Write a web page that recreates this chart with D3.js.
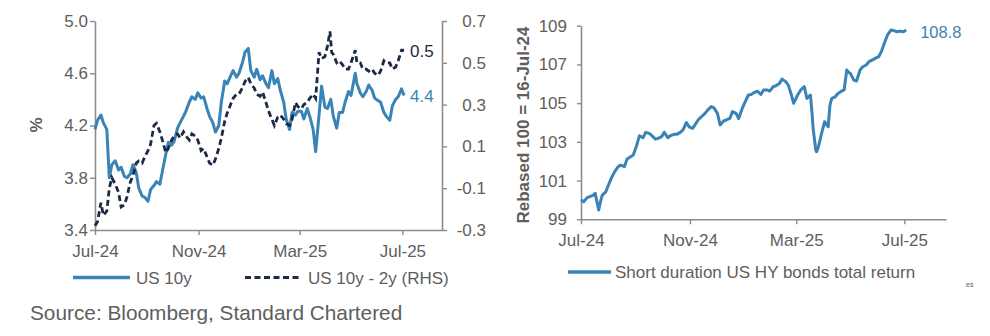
<!DOCTYPE html>
<html>
<head>
<meta charset="utf-8">
<script src="https://cdn.jsdelivr.net/npm/d3@7"></script>
<style>
  html, body { margin: 0; padding: 0; background: #fff; }
  svg { display: block; font-family: "Liberation Sans", Arial, sans-serif; }
</style>
</head>
<body>
<svg id="chart" width="990" height="336"></svg>
<script>
// ---------------- DATA ----------------
const xTickDates = ["2024-07-16", "2024-11-16", "2025-03-16", "2025-07-16"];
const xTickLabels = ["Jul-24", "Nov-24", "Mar-25", "Jul-25"];
const leftTicks = [3.4, 3.8, 4.2, 4.6, 5.0];
const rightTicks = [-0.3, -0.1, 0.1, 0.3, 0.5, 0.7];
const hyTicks = [99, 101, 103, 105, 107, 109];
const endLabels = { us10y: "4.4", spread: "0.5", hy: "108.8" };
const seriesNames = ["US 10y", "US 10y - 2y (RHS)", "Short duration US HY bonds total return"];

const us10yDates = ["2024-07-16","2024-07-19","2024-07-23","2024-07-26","2024-07-30","2024-08-02","2024-08-05","2024-08-09","2024-08-13","2024-08-16","2024-08-20","2024-08-23","2024-08-27","2024-08-30","2024-09-03","2024-09-06","2024-09-10","2024-09-13","2024-09-17","2024-09-20","2024-09-24","2024-09-27","2024-10-01","2024-10-04","2024-10-08","2024-10-11","2024-10-15","2024-10-18","2024-10-22","2024-10-25","2024-10-29","2024-11-01","2024-11-05","2024-11-08","2024-11-12","2024-11-15","2024-11-19","2024-11-22","2024-11-26","2024-11-29","2024-12-03","2024-12-06","2024-12-10","2024-12-13","2024-12-17","2024-12-20","2024-12-24","2024-12-27","2024-12-31","2025-01-03","2025-01-07","2025-01-10","2025-01-14","2025-01-17","2025-01-21","2025-01-24","2025-01-28","2025-01-31","2025-02-04","2025-02-07","2025-02-11","2025-02-14","2025-02-18","2025-02-21","2025-02-25","2025-02-28","2025-03-04","2025-03-07","2025-03-11","2025-03-14","2025-03-18","2025-03-21","2025-03-25","2025-03-28","2025-04-01","2025-04-04","2025-04-08","2025-04-11","2025-04-15","2025-04-18","2025-04-22","2025-04-25","2025-04-29","2025-05-02","2025-05-06","2025-05-09","2025-05-13","2025-05-16","2025-05-21","2025-05-23","2025-05-27","2025-05-30","2025-06-03","2025-06-06","2025-06-10","2025-06-13","2025-06-17","2025-06-20","2025-06-24","2025-06-27","2025-07-01","2025-07-04","2025-07-08","2025-07-11","2025-07-15","2025-07-18"];
const us10yValues = [4.17,4.24,4.28,4.22,4.17,3.80,3.90,3.93,3.86,3.88,3.81,3.80,3.83,3.90,3.84,3.72,3.66,3.65,3.62,3.71,3.74,3.77,3.75,3.85,3.98,4.07,4.05,4.08,4.18,4.22,4.27,4.31,4.38,4.42,4.40,4.45,4.41,4.42,4.33,4.27,4.22,4.15,4.20,4.38,4.54,4.52,4.58,4.62,4.57,4.60,4.68,4.76,4.79,4.62,4.57,4.63,4.55,4.58,4.52,4.49,4.62,4.52,4.56,4.47,4.38,4.25,4.17,4.30,4.28,4.31,4.31,4.25,4.33,4.27,4.17,4.00,4.28,4.50,4.34,4.33,4.40,4.27,4.18,4.30,4.30,4.38,4.46,4.43,4.60,4.52,4.45,4.42,4.46,4.51,4.47,4.41,4.39,4.38,4.30,4.27,4.24,4.35,4.40,4.42,4.48,4.43];

const spreadDates = ["2024-07-16","2024-07-19","2024-07-23","2024-07-26","2024-07-30","2024-08-02","2024-08-05","2024-08-09","2024-08-13","2024-08-16","2024-08-20","2024-08-23","2024-08-27","2024-08-30","2024-09-03","2024-09-06","2024-09-10","2024-09-13","2024-09-17","2024-09-20","2024-09-24","2024-09-27","2024-10-01","2024-10-04","2024-10-08","2024-10-11","2024-10-15","2024-10-18","2024-10-22","2024-10-25","2024-10-29","2024-11-01","2024-11-05","2024-11-08","2024-11-12","2024-11-15","2024-11-19","2024-11-22","2024-11-26","2024-11-29","2024-12-03","2024-12-06","2024-12-10","2024-12-13","2024-12-17","2024-12-20","2024-12-24","2024-12-27","2024-12-31","2025-01-03","2025-01-07","2025-01-10","2025-01-14","2025-01-17","2025-01-21","2025-01-24","2025-01-28","2025-01-31","2025-02-04","2025-02-07","2025-02-11","2025-02-14","2025-02-18","2025-02-21","2025-02-25","2025-02-28","2025-03-04","2025-03-07","2025-03-11","2025-03-14","2025-03-18","2025-03-21","2025-03-25","2025-03-28","2025-04-01","2025-04-04","2025-04-08","2025-04-11","2025-04-15","2025-04-18","2025-04-21","2025-04-23","2025-04-25","2025-04-29","2025-05-02","2025-05-06","2025-05-09","2025-05-13","2025-05-16","2025-05-21","2025-05-23","2025-05-27","2025-05-30","2025-06-03","2025-06-06","2025-06-10","2025-06-13","2025-06-17","2025-06-20","2025-06-24","2025-06-27","2025-07-01","2025-07-04","2025-07-08","2025-07-11","2025-07-15","2025-07-18"];
const spreadValues = [-0.28,-0.26,-0.17,-0.23,-0.21,-0.10,-0.05,-0.08,-0.12,-0.19,-0.18,-0.14,-0.07,-0.04,0.02,0.03,0.02,0.05,0.08,0.11,0.20,0.21,0.17,0.13,0.07,0.09,0.13,0.15,0.16,0.14,0.17,0.15,0.13,0.16,0.15,0.13,0.08,0.09,0.05,0.02,0.01,0.04,0.09,0.14,0.22,0.26,0.30,0.33,0.35,0.35,0.38,0.41,0.43,0.40,0.38,0.35,0.34,0.36,0.31,0.27,0.23,0.20,0.24,0.25,0.23,0.21,0.20,0.23,0.31,0.29,0.28,0.30,0.31,0.33,0.35,0.33,0.55,0.52,0.53,0.58,0.65,0.55,0.54,0.50,0.51,0.49,0.47,0.47,0.50,0.56,0.50,0.50,0.47,0.47,0.46,0.47,0.45,0.44,0.46,0.51,0.50,0.50,0.47,0.48,0.51,0.56,0.56];

const hyDates = ["2024-07-16","2024-07-19","2024-07-23","2024-07-26","2024-07-30","2024-08-01","2024-08-02","2024-08-05","2024-08-07","2024-08-09","2024-08-13","2024-08-16","2024-08-20","2024-08-23","2024-08-27","2024-08-30","2024-09-03","2024-09-06","2024-09-10","2024-09-13","2024-09-17","2024-09-20","2024-09-24","2024-09-27","2024-10-01","2024-10-04","2024-10-08","2024-10-11","2024-10-15","2024-10-18","2024-10-22","2024-10-25","2024-10-29","2024-11-01","2024-11-05","2024-11-08","2024-11-12","2024-11-15","2024-11-19","2024-11-22","2024-11-26","2024-11-29","2024-12-03","2024-12-06","2024-12-10","2024-12-13","2024-12-17","2024-12-20","2024-12-24","2024-12-27","2024-12-31","2025-01-03","2025-01-07","2025-01-10","2025-01-14","2025-01-17","2025-01-21","2025-01-24","2025-01-28","2025-01-31","2025-02-04","2025-02-07","2025-02-11","2025-02-14","2025-02-18","2025-02-21","2025-02-25","2025-02-28","2025-03-04","2025-03-07","2025-03-10","2025-03-13","2025-03-17","2025-03-21","2025-03-25","2025-03-28","2025-04-01","2025-04-03","2025-04-04","2025-04-07","2025-04-08","2025-04-10","2025-04-14","2025-04-17","2025-04-21","2025-04-23","2025-04-25","2025-04-29","2025-05-02","2025-05-06","2025-05-09","2025-05-12","2025-05-14","2025-05-16","2025-05-20","2025-05-23","2025-05-27","2025-05-30","2025-06-03","2025-06-06","2025-06-10","2025-06-13","2025-06-17","2025-06-20","2025-06-24","2025-06-27","2025-07-01","2025-07-03","2025-07-08","2025-07-11","2025-07-15","2025-07-18"];
const hyValues = [100.00,99.91,100.12,100.17,100.25,100.34,100.12,99.48,99.91,100.25,100.42,100.77,101.20,101.46,101.72,101.80,101.72,102.11,102.23,102.32,102.84,103.32,103.21,103.49,103.44,103.32,103.14,103.18,103.27,103.49,103.21,103.32,103.39,103.39,103.49,103.61,104.00,103.78,103.70,103.90,104.18,104.30,104.47,104.64,104.82,104.76,104.47,103.87,104.08,104.13,104.21,104.56,104.47,104.21,104.73,105.04,105.42,105.45,105.56,105.62,105.45,105.68,105.68,105.62,105.85,105.90,106.02,106.24,106.11,105.93,105.50,104.99,105.38,105.68,105.85,105.25,105.42,104.38,103.70,102.58,102.49,102.75,103.52,104.04,103.78,104.90,105.25,105.33,105.50,105.62,105.68,106.71,106.59,106.54,106.19,106.14,106.71,106.88,106.97,107.14,107.23,107.31,107.40,107.66,108.17,108.52,108.78,108.76,108.69,108.72,108.69,108.78];

// ---------------- STYLE ----------------
const BLUE = "#3983b6";
const NAVY = "#1c2a44";
const AXIS = "#8c8c8c";
const TEXT = "#5e5e5e";
const FONT = 17;

const parse = d3.timeParse("%Y-%m-%d");
const fmt1 = d => d.toFixed(1);
const svg = d3.select("#chart");
const domainDates = [parse("2024-07-16"), parse("2025-09-01")];
const tickDates = xTickDates.map(parse);

function styleAxis(g) {
  g.select(".domain").attr("stroke", AXIS).attr("stroke-width", 1.6);
  g.selectAll(".tick line").attr("stroke", AXIS).attr("stroke-width", 1.4);
  g.selectAll(".tick text").attr("fill", TEXT)
    .style("font-size", FONT + "px").style("font-family", '"Liberation Sans", Arial, sans-serif');
}

// ============ LEFT CHART ============
const L = { x0: 95, x1: 442, y0: 230, y1: 21 };
const xL = d3.scaleTime().domain(domainDates).range([L.x0, L.x1]);
const yL = d3.scaleLinear().domain([3.4, 5.0]).range([L.y0, L.y1]);
const yR = d3.scaleLinear().domain([-0.3, 0.7]).range([L.y0, L.y1]);

svg.append("g").attr("transform", `translate(${L.x0},0)`)
  .call(d3.axisLeft(yL).tickValues(leftTicks).tickFormat(fmt1).tickSize(5).tickSizeOuter(0).tickPadding(2))
  .call(styleAxis);
const rAx = svg.append("g").attr("transform", `translate(${L.x1},0)`)
  .call(d3.axisRight(yR).tickValues(rightTicks).tickFormat(fmt1).tickSize(5).tickSizeOuter(0).tickPadding(5))
  .call(styleAxis);
rAx.selectAll(".tick text").attr("text-anchor", "end").attr("x", 44);
svg.append("g").attr("transform", `translate(0,${L.y0})`)
  .call(d3.axisBottom(xL).tickValues(tickDates).tickFormat((d, i) => xTickLabels[i]).tickSize(5).tickSizeOuter(0).tickPadding(10))
  .call(styleAxis);

svg.append("text").attr("transform", "translate(42,125) rotate(-90)")
  .attr("text-anchor", "middle").attr("fill", TEXT).style("font-size", FONT + "px").style("font-weight", "bold").text("%");

const us10y = us10yDates.map((d, i) => ({ date: parse(d), v: us10yValues[i] }));
const spread = spreadDates.map((d, i) => ({ date: parse(d), v: spreadValues[i] }));

svg.append("path").datum(us10y)
  .attr("fill", "none").attr("stroke", BLUE).attr("stroke-width", 3).attr("stroke-linejoin", "round")
  .attr("d", d3.line().x(d => xL(d.date)).y(d => yL(d.v)));
svg.append("path").datum(spread)
  .attr("fill", "none").attr("stroke", NAVY).attr("stroke-width", 2.8).attr("stroke-dasharray", "6,3.5")
  .attr("d", d3.line().x(d => xL(d.date)).y(d => yR(d.v)));

const lastU = us10y[us10y.length - 1], lastS = spread[spread.length - 1];
svg.append("text").attr("x", xL(lastU.date) + 6).attr("y", yL(lastU.v) + 6.5)
  .attr("fill", BLUE).style("font-size", FONT + "px").text(endLabels.us10y);
svg.append("text").attr("x", xL(lastS.date) + 6).attr("y", yR(lastS.v) + 6.5)
  .attr("fill", NAVY).style("font-size", FONT + "px").text(endLabels.spread);

// legend left
svg.append("line").attr("x1", 73).attr("x2", 130).attr("y1", 277.5).attr("y2", 277.5)
  .attr("stroke", BLUE).attr("stroke-width", 3.5);
svg.append("text").attr("x", 136).attr("y", 283.5).attr("fill", TEXT).style("font-size", FONT + "px").text(seriesNames[0]);
svg.append("line").attr("x1", 245).attr("x2", 302).attr("y1", 277.5).attr("y2", 277.5)
  .attr("stroke", NAVY).attr("stroke-width", 2.8).attr("stroke-dasharray", "6,3.5");
svg.append("text").attr("x", 308).attr("y", 283.5).attr("fill", TEXT).style("font-size", FONT + "px").text(seriesNames[1]);

svg.append("text").attr("x", 30).attr("y", 320).attr("fill", TEXT).style("font-size", "20.8px")
  .text("Source: Bloomberg, Standard Chartered");

// ============ RIGHT CHART ============
const R = { x0: 581, x1: 946, y0: 219.3, y1: 25.7 };
const xH = d3.scaleTime().domain(domainDates).range([R.x0, R.x1]);
const yH = d3.scaleLinear().domain([99, 109]).range([R.y0, R.y1]);

svg.append("g").attr("transform", `translate(${R.x0},0)`)
  .call(d3.axisLeft(yH).tickValues(hyTicks).tickFormat(d => String(d)).tickSize(4).tickSizeOuter(0).tickPadding(10))
  .call(styleAxis);
svg.append("g").attr("transform", `translate(0,${R.y0})`)
  .call(d3.axisBottom(xH).tickValues(tickDates).tickFormat((d, i) => xTickLabels[i]).tickSize(5).tickSizeOuter(0).tickPadding(10))
  .call(styleAxis);

svg.append("text").attr("transform", "translate(529,125) rotate(-90)")
  .attr("text-anchor", "middle").attr("fill", TEXT).style("font-size", FONT + "px").style("font-weight", "bold")
  .text("Rebased 100 = 16-Jul-24");

const hy = hyDates.map((d, i) => ({ date: parse(d), v: hyValues[i] }));
svg.append("path").datum(hy)
  .attr("fill", "none").attr("stroke", BLUE).attr("stroke-width", 3).attr("stroke-linejoin", "round")
  .attr("d", d3.line().x(d => xH(d.date)).y(d => yH(d.v)));
const lastH = hy[hy.length - 1];
svg.append("text").attr("x", xH(lastH.date) + 14).attr("y", yH(lastH.v) + 8)
  .attr("fill", BLUE).style("font-size", "16.5px").text(endLabels.hy);

svg.append("line").attr("x1", 568).attr("x2", 611).attr("y1", 272).attr("y2", 272)
  .attr("stroke", BLUE).attr("stroke-width", 3.5);
svg.append("text").attr("x", 615).attr("y", 277.5).attr("fill", TEXT).style("font-size", FONT + "px").text(seriesNames[2]);

svg.append("text").attr("x", 966).attr("y", 287).attr("fill", TEXT).style("font-size", "7px").text("es");
</script>
</body>
</html>
